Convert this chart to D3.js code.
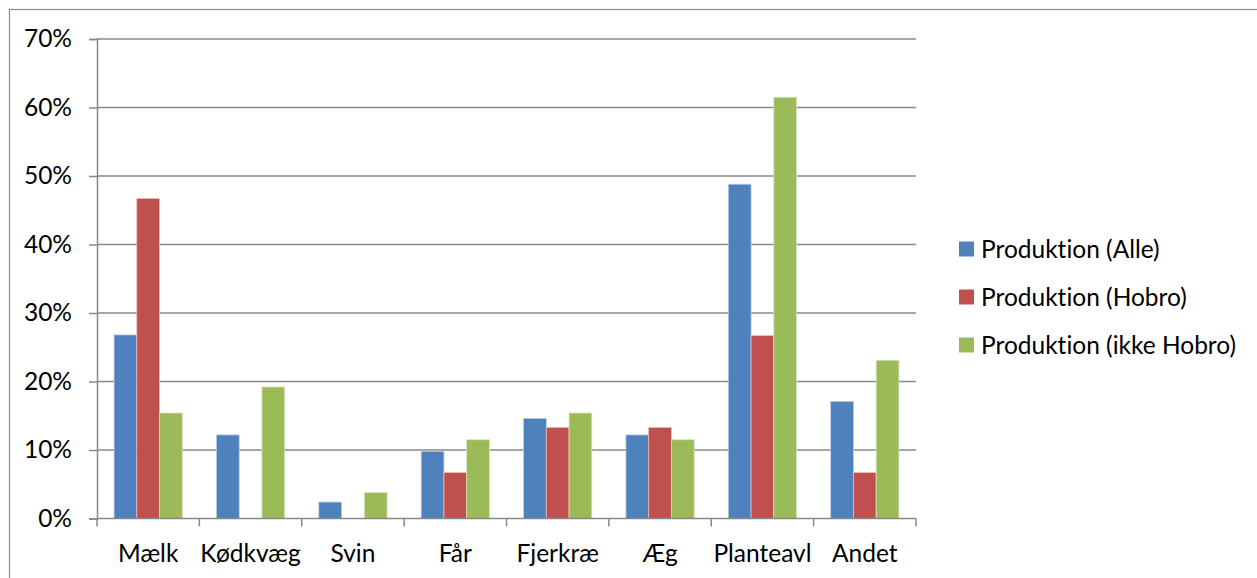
<!DOCTYPE html>
<html>
<head>
<meta charset="utf-8">
<script src="https://cdn.jsdelivr.net/npm/d3@7"></script>
<style>
  body { margin: 0; background: #fff; }
  svg { display: block; font-family: Lato, "Open Sans", sans-serif; font-variant-ligatures: none; }
</style>
</head>
<body>
<div class="chart"></div>
<script>
// categories and series
var categories = ["Mælk", "Kødkvæg", "Svin", "Får", "Fjerkræ", "Æg", "Planteavl", "Andet"];
var seriesNames = ["Produktion (Alle)", "Produktion (Hobro)", "Produktion (ikke Hobro)"];
var alle = [0.268, 0.122, 0.024, 0.098, 0.146, 0.122, 0.488, 0.171];
var hobro = [0.467, 0, 0, 0.067, 0.133, 0.133, 0.267, 0.067];
var ikkeHobro = [0.154, 0.192, 0.038, 0.115, 0.154, 0.115, 0.615, 0.231];
var yTicks = [0, 0.1, 0.2, 0.3, 0.4, 0.5, 0.6, 0.7];

var colors = ["#4F81BD", "#C0504D", "#9BBB59"];
var edges = ["#b8cce4", "#e6b9b8", "#d7e4bd"];

var width = 1257, height = 578;
var fontSize = 24.5;

var svg = d3.select(".chart")
    .append("svg")
    .attr("width", width)
    .attr("height", height);

// outer chart border (runs off the right and bottom)
svg.append("rect")
    .attr("x", 9.5).attr("y", 9.5)
    .attr("width", width + 20).attr("height", height + 20)
    .attr("fill", "none")
    .attr("stroke", "#8c8c8c")
    .attr("stroke-width", 1.2);

var plotLeft = 97, plotRight = 916, plotTop = 39, plotBottom = 518.5;

var x = d3.scaleBand()
    .domain(categories)
    .range([plotLeft, plotRight]);

// gap width 150% like the spreadsheet
var x1 = d3.scaleBand()
    .domain(seriesNames)
    .range([0, x.bandwidth()])
    .paddingOuter(0.75);

var y = d3.scaleLinear()
    .domain([0, 0.7])
    .range([plotBottom, plotTop]);

// gridlines
svg.append("g")
    .selectAll("line")
    .data(yTicks.slice(1))
    .enter().append("line")
    .attr("x1", plotLeft).attr("x2", plotRight)
    .attr("y1", function(d) { return y(d); })
    .attr("y2", function(d) { return y(d); })
    .attr("stroke", "#888")
    .attr("stroke-width", 1.5);

// bars (zero values draw nothing)
var data = [alle, hobro, ikkeHobro];
data.forEach(function(vals, s) {
    var rows = vals.map(function(v, i) { return { cat: categories[i], value: v }; })
        .filter(function(d) { return d.value > 0; });
    svg.append("g")
        .selectAll("rect")
        .data(rows)
        .enter().append("rect")
        .attr("x", function(d) { return x(d.cat) + x1(seriesNames[s]); })
        .attr("y", function(d) { return y(d.value); })
        .attr("width", x1.bandwidth())
        .attr("height", function(d) { return y(0) - y(d.value); })
        .attr("fill", colors[s])
        .attr("stroke", edges[s])
        .attr("stroke-width", 0.8);
});

// y axis
var yAxis = d3.axisLeft(y)
    .tickValues(yTicks)
    .tickFormat(d3.format(".0%"))
    .tickSize(8)
    .tickPadding(17);

var gy = svg.append("g")
    .attr("transform", "translate(" + plotLeft + ",0)")
    .call(yAxis);
gy.select(".domain").attr("stroke", "#888").attr("stroke-width", 1.5);
gy.selectAll(".tick line").attr("stroke", "#888").attr("stroke-width", 1.5);
gy.selectAll("text")
    .attr("font-size", fontSize)
    .attr("font-family", "Lato, sans-serif")
    .attr("fill", "#000");

// x axis: ticks at category boundaries
var gx = svg.append("g")
    .attr("transform", "translate(0," + plotBottom + ")");
gx.append("line")
    .attr("x1", plotLeft).attr("x2", plotRight)
    .attr("stroke", "#888").attr("stroke-width", 1.5);
gx.selectAll(".bt")
    .data(categories.concat([null]))
    .enter().append("line")
    .attr("class", "bt")
    .attr("x1", function(d) { return d ? x(d) : plotRight; })
    .attr("x2", function(d) { return d ? x(d) : plotRight; })
    .attr("y1", 0).attr("y2", 8)
    .attr("stroke", "#888").attr("stroke-width", 1.5);
gx.selectAll("text")
    .data(categories)
    .enter().append("text")
    .text(function(d) { return d; })
    .attr("x", function(d) { return x(d) + x.bandwidth() / 2; })
    .attr("y", 43)
    .attr("text-anchor", "middle")
    .attr("font-size", fontSize)
    .attr("fill", "#000");

// legend
var legend = svg.append("g")
    .selectAll("g")
    .data(seriesNames)
    .enter().append("g")
    .attr("transform", function(d, i) { return "translate(959," + (249 + i * 48) + ")"; });
legend.append("rect")
    .attr("x", 0).attr("y", -7.5)
    .attr("width", 15).attr("height", 15)
    .attr("fill", function(d, i) { return colors[i]; });
legend.append("text")
    .text(function(d) { return d; })
    .attr("x", 22)
    .attr("y", 0)
    .attr("dy", "0.35em")
    .attr("font-size", fontSize)
    .attr("fill", "#000");
</script>
</body>
</html>
